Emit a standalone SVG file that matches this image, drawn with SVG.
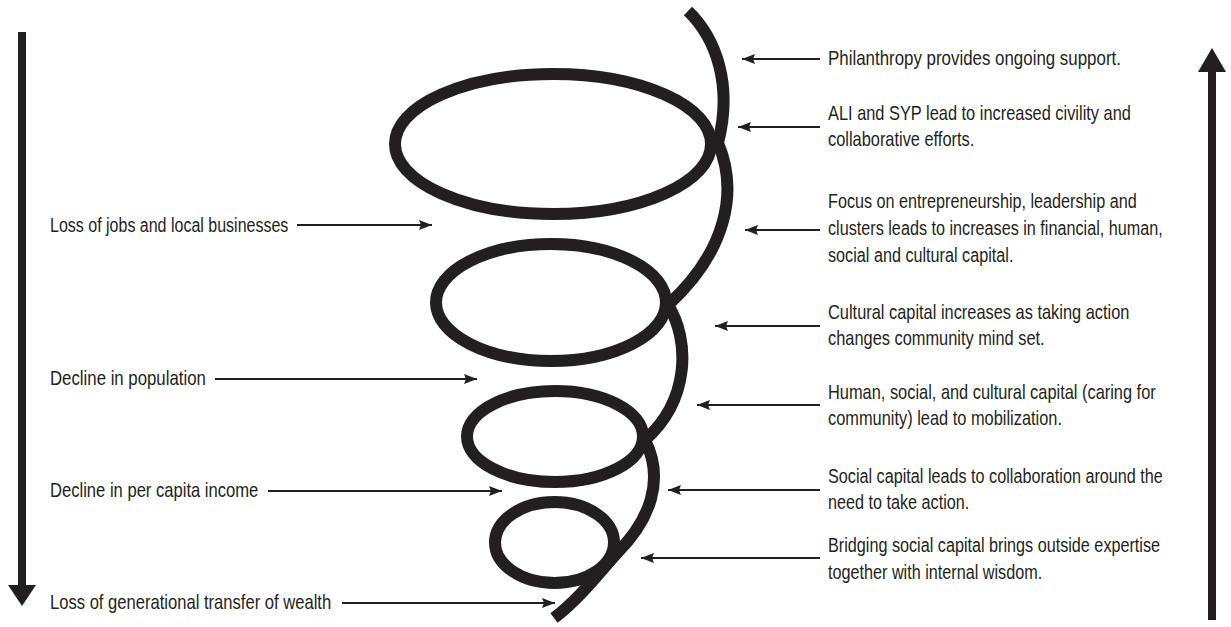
<svg xmlns="http://www.w3.org/2000/svg" width="1231" height="627" viewBox="0 0 1231 627">
<defs>
<style>
.t{font-family:"Liberation Sans",Arial,sans-serif;font-size:20px;fill:#231f20}
.c{stroke:#231f20;stroke-width:2;fill:none}
.s{stroke:#231f20;stroke-width:12;fill:none}
.big{stroke:#231f20;stroke-width:8;fill:none}
.hd{fill:#231f20}
</style>
<marker id="ah" markerUnits="userSpaceOnUse" markerWidth="14" markerHeight="12" refX="13" refY="5" orient="auto" viewBox="0 0 14 10">
<path d="M0,0 L13,5 L0,10 L2,5 Z" fill="#231f20"/>
</marker>
</defs>
<rect width="1231" height="627" fill="#ffffff"/>

<g id="spiral">
<path class="s" d="M688,11 C716,38 733,85 718,143 C738,190 728,250 668,305 C690,340 690,400 645,440 C665,480 650,520 617,553 C600,572 578,600 554,618"/>
<ellipse class="s" cx="553" cy="144" rx="158" ry="70"/>
<ellipse class="s" cx="551" cy="302.5" rx="115" ry="58.5"/>
<ellipse class="s" cx="555" cy="436.5" rx="88" ry="45.5"/>
<ellipse class="s" cx="554.5" cy="542.5" rx="59.5" ry="40.5"/>
</g>

<g id="down-arrow">
<line class="big" x1="22" y1="32" x2="22" y2="586"/>
<polygon class="hd" points="8,585 36,585 22,606"/>
</g>
<g id="up-arrow">
<line class="big" x1="1212" y1="620" x2="1212" y2="70"/>
<polygon class="hd" points="1198,72 1226,72 1212,48"/>
</g>

<g id="connectors">
<line class="c" x1="297" y1="225" x2="432" y2="225" marker-end="url(#ah)"/>
<line class="c" x1="215" y1="379" x2="477" y2="379" marker-end="url(#ah)"/>
<line class="c" x1="268" y1="491" x2="502" y2="491" marker-end="url(#ah)"/>
<line class="c" x1="342" y1="603" x2="555" y2="603" marker-end="url(#ah)"/>
<line class="c" x1="820" y1="59" x2="742" y2="59" marker-end="url(#ah)"/>
<line class="c" x1="820" y1="127" x2="738" y2="127" marker-end="url(#ah)"/>
<line class="c" x1="820" y1="230" x2="745" y2="230" marker-end="url(#ah)"/>
<line class="c" x1="820" y1="326" x2="715" y2="326" marker-end="url(#ah)"/>
<line class="c" x1="820" y1="405" x2="697" y2="405" marker-end="url(#ah)"/>
<line class="c" x1="820" y1="490" x2="668" y2="490" marker-end="url(#ah)"/>
<line class="c" x1="820" y1="558" x2="641" y2="558" marker-end="url(#ah)"/>
</g>

<g id="left-labels">
<g id="l1" transform="matrix(0.8 0 0 1 50 0)"><text class="t" x="0" y="232">Loss of jobs and local businesses</text></g>
<g id="l2" transform="matrix(0.84 0 0 1 50 0)"><text class="t" x="0" y="385">Decline in population</text></g>
<g id="l3" transform="matrix(0.83 0 0 1 50 0)"><text class="t" x="0" y="497">Decline in per capita income</text></g>
<g id="l4" transform="matrix(0.83 0 0 1 50 0)"><text class="t" x="0" y="609">Loss of generational transfer of wealth</text></g>
</g>

<g id="right-labels">
<g id="r1" transform="matrix(0.845 0 0 1 828 0)"><text class="t" x="0" y="65">Philanthropy provides ongoing support.</text></g>
<g id="r2" transform="matrix(0.82 0 0 1 828 0)">
<text class="t" x="0" y="120">ALI and SYP lead to increased civility and</text>
<text class="t" x="0" y="146">collaborative efforts.</text>
</g>
<g id="r3" transform="matrix(0.81 0 0 1 828 0)">
<text class="t" x="0" y="208">Focus on entrepreneurship, leadership and</text>
<text class="t" x="0" y="235">clusters leads to increases in financial, human,</text>
<text class="t" x="0" y="262">social and cultural capital.</text>
</g>
<g id="r4" transform="matrix(0.82 0 0 1 828 0)">
<text class="t" x="0" y="319">Cultural capital increases as taking action</text>
<text class="t" x="0" y="345">changes community mind set.</text>
</g>
<g id="r5" transform="matrix(0.82 0 0 1 828 0)">
<text class="t" x="0" y="399">Human, social, and cultural capital (caring for</text>
<text class="t" x="0" y="425">community) lead to mobilization.</text>
</g>
<g id="r6" transform="matrix(0.81 0 0 1 828 0)">
<text class="t" x="0" y="483">Social capital leads to collaboration around the</text>
<text class="t" x="0" y="509">need to take action.</text>
</g>
<g id="r7" transform="matrix(0.81 0 0 1 828 0)">
<text class="t" x="0" y="552">Bridging social capital brings outside expertise</text>
<text class="t" x="0" y="579">together with internal wisdom.</text>
</g>
</g>
</svg>
